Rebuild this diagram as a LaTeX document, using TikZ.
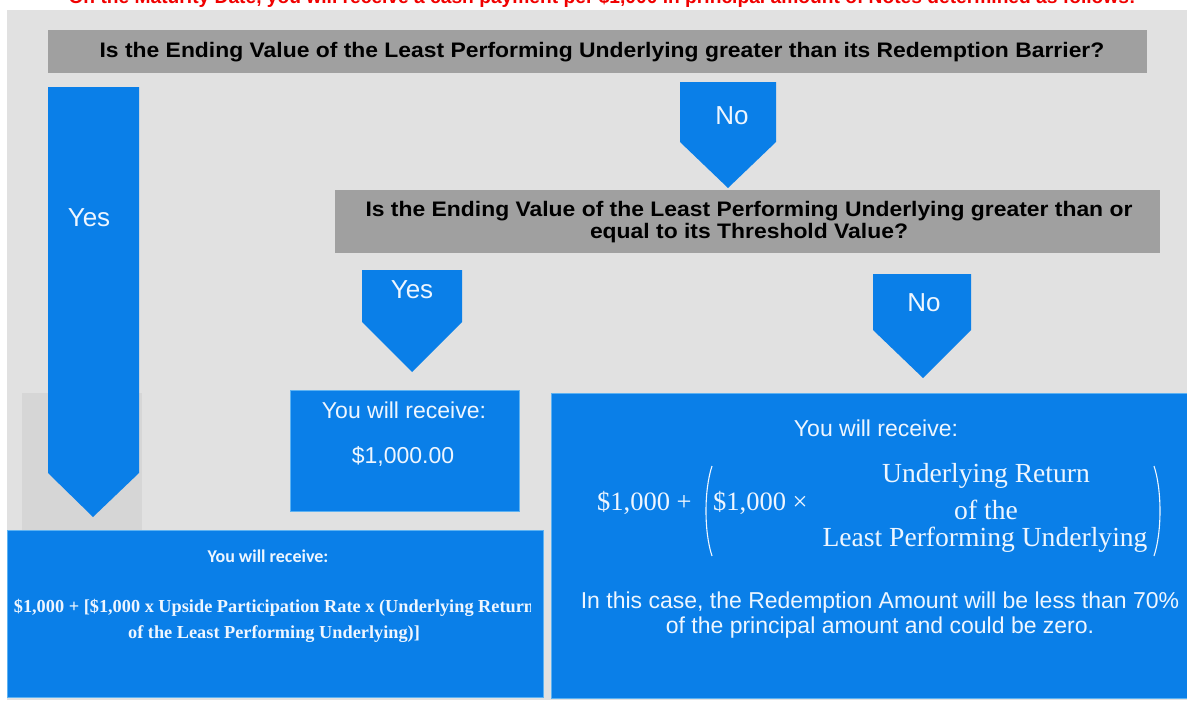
\documentclass[tikz,border=0pt]{standalone}
\usepackage{fontspec}
\setmainfont{Liberation Sans}
\newfontfamily\barfont[FakeStretch=1.09]{Liberation Sans}
\newfontfamily\slabfont{Liberation Serif}
\newfontfamily\calibfont{Carlito}
\definecolor{panelgray}{HTML}{E1E1E1}
\definecolor{bargray}{HTML}{A0A0A0}
\definecolor{shadowgray}{HTML}{D6D6D6}
\definecolor{flowblue}{HTML}{0A7FE8}
\definecolor{edgeblue}{HTML}{5DB2F2}
\definecolor{softwhite}{HTML}{EEF6FF}
\definecolor{titlered}{HTML}{F00000}
\tikzset{
  bluebox/.style={fill=flowblue, draw=edgeblue, line width=0.6pt},
  arrowshape/.style={fill=flowblue},
  bartext/.style={font=\barfont\bfseries\fontsize{21}{22}\selectfont, text=black, align=center, inner sep=0pt},
  armlabel/.style={font=\fontsize{26}{30}\selectfont, text=softwhite, inner sep=0pt},
  bluetext/.style={font=\fontsize{23}{25}\selectfont, text=softwhite, align=center, inner sep=0pt},
  formtext/.style={font=\slabfont\fontsize{26.5}{28}\selectfont, text=softwhite, inner sep=0pt},
  fractext/.style={font=\slabfont\fontsize{27.6}{29}\selectfont, text=softwhite, inner sep=0pt},
}
\begin{document}
\begin{tikzpicture}[x=1pt,y=-1pt]
\useasboundingbox (0,0) rectangle (1187,704);
\clip (0,0) rectangle (1187,704);
\fill[white] (0,0) rectangle (1187,704);
\fill[panelgray] (7,10) rectangle (1187,700);
% title (cropped at the top edge)
\node[anchor=base, inner sep=0pt, text=titlered, font=\bfseries\fontsize{19.2}{22}\selectfont] (title) at (602,3)
  {On the Maturity Date, you will receive a cash payment per \$1,000 in principal amount of Notes determined as follows:};
% first question bar
\fill[bargray] (48,30) rectangle (1147,73);
\node[bartext] (q1) at (602,52) {Is the Ending Value of the Least Performing Underlying greater than its Redemption Barrier?};
% left yes arrow with shadow
\fill[shadowgray] (22,393) rectangle (142,530);
\fill[arrowshape] (48,87) -- (139,87) -- (139,473) -- (93,517) -- (48,473) -- cycle;
\node[armlabel] (yes1) at (89,218) {Yes};
% no arrow 1
\fill[arrowshape] (680,82) -- (776,82) -- (776,142) -- (728,188) -- (680,142) -- cycle;
\node[armlabel] (no1) at (732,116) {No};
% second question bar
\fill[bargray] (335,190) rectangle (1160,253);
\node[bartext] (q2) at (749,222) {Is the Ending Value of the Least Performing Underlying greater than or\\ equal to its Threshold Value?};
% yes arrow 2
\fill[arrowshape] (362,270) -- (462,270) -- (462,322) -- (412,372) -- (362,322) -- cycle;
\node[armlabel] (yes2) at (412,290) {Yes};
% no arrow 2
\fill[arrowshape] (873,274) -- (971,274) -- (971,330) -- (923,378) -- (873,330) -- cycle;
\node[armlabel] (no2) at (924,303) {No};
% $1000 box
\draw[bluebox] (290,390) rectangle (519,511);
\node[bluetext] (r1a) at (404,410) {You will receive:};
\node[bluetext] (r1b) at (403,456) {\$1,000.00};
% left bottom box
\draw[bluebox] (7,530) rectangle (543,697);
\node[inner sep=0pt, text=softwhite, font=\calibfont\bfseries\fontsize{18}{20}\selectfont] (r2a) at (268,556) {You will receive:};
\begin{scope}
  \clip (7,530) rectangle (530,697);
  \node[inner sep=0pt, text=softwhite, align=center, font=\slabfont\bfseries\fontsize{18.3}{26}\selectfont] (r2b) at (274,621)
    {\$1,000 + [\$1,000 x Upside Participation Rate x (Underlying Return\\ of the Least Performing Underlying)]};
\end{scope}
% right box
\draw[bluebox] (551,393) rectangle (1187,698);
\node[bluetext] (r3a) at (876,428) {You will receive:};
\node[formtext, anchor=west] (f1) at (597,503) {\$1,000 +};
\node[formtext, anchor=west] (f2) at (713,503) {\$1,000 ×};
\node[fractext] (f3) at (986,476) {Underlying Return};
\node[fractext] (f4) at (986,510) {of the};
\node[fractext] (f5) at (985,540) {Least Performing Underlying};
\coordinate (lpt) at (712,466);
\coordinate (lpb) at (712,556);
\coordinate (rpt) at (1154,466);
\coordinate (rpb) at (1154,556);
\draw[softwhite, line width=1.1pt] (lpt) .. controls (704,490) and (704,532) .. (lpb);
\draw[softwhite, line width=1.1pt] (rpt) .. controls (1162,490) and (1162,532) .. (rpb);
\node[bluetext] (r3b) at (880,615) {In this case, the Redemption Amount will be less than 70\%\\ of the principal amount and could be zero.};
\end{tikzpicture}
\end{document}
